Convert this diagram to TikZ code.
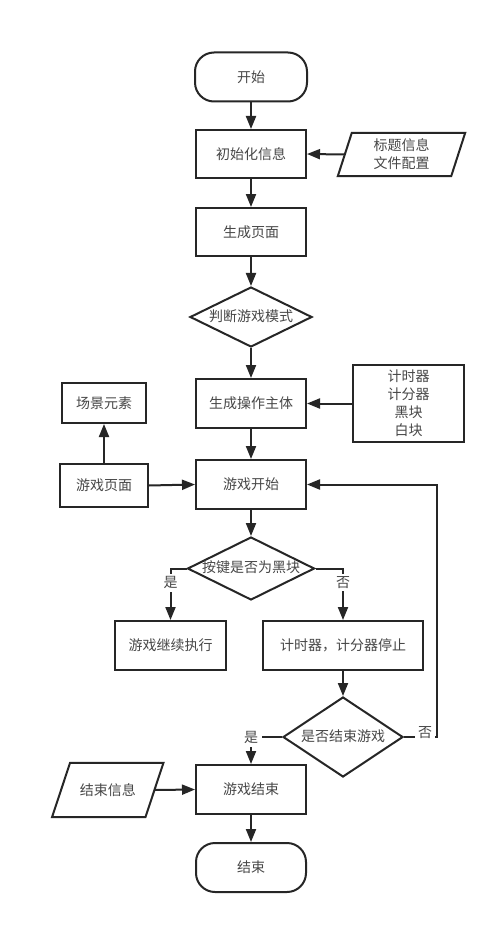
\documentclass[tikz,border=0pt]{standalone}
\usepackage{fontspec}
\newfontfamily\cjk{Noto Sans CJK SC}
\usetikzlibrary{arrows.meta,shapes.geometric}
\begin{document}
\begin{tikzpicture}[x=1pt,y=-1pt,
  every node/.style={font=\cjk\fontsize{14}{18}\selectfont, text=black!72, inner sep=0pt, align=center},
  base/.style={draw=black!85, line width=2pt},
  procbox/.style={base, rectangle, minimum width=110pt, minimum height=48pt},
  termbox/.style={base, rectangle, rounded corners=19pt, minimum width=110pt, minimum height=49pt},
  decbox/.style={base, diamond, text height=10pt, text depth=2pt},
  iobox/.style={rectangle, minimum height=43pt},
  lab/.style={fill=white, inner sep=2.5pt},
  flow/.style={draw=black!85, line width=2pt, -{Triangle[length=13pt,width=10pt]}},
  paraline/.style={draw=black!85, line width=2pt, line join=miter}
]
\useasboundingbox (0,0) rectangle (500,928);
\fill[white] (0,0) rectangle (500,928);

% nodes
\node[termbox, minimum width=112pt] (start) at (251,77) {开始};
\node[procbox] (init) at (251,154) {初始化信息};
\node[iobox, minimum width=113pt] (info) at (401.5,154.5) {标题信息\\文件配置};
\draw[paraline] ([xshift=-7pt]info.south west) -- ([xshift=-7pt]info.south east) -- ([xshift=7pt]info.north east) -- ([xshift=7pt]info.north west) -- cycle;
\node[procbox] (page) at (251,232) {生成页面};
\node[decbox, shape aspect=2, minimum width=122pt, minimum height=60pt] (mode) at (251,317) {判断游戏模式};
\node[procbox, minimum height=49pt] (gen) at (251,403.5) {生成操作主体};
\node[base, rectangle, minimum width=111pt, minimum height=77pt] (comps) at (408.5,403.5) {计时器\\计分器\\黑块\\白块};
\node[base, rectangle, minimum width=84pt, minimum height=40pt] (scene) at (104,403) {场景元素};
\node[base, rectangle, minimum width=88pt, minimum height=43pt] (gpage) at (104,485.5) {游戏页面};
\node[procbox, minimum height=49pt] (gstart) at (251,484.5) {游戏开始};
\node[decbox, shape aspect=2, minimum width=127pt, minimum height=63pt] (key) at (251,568.5) {按键是否为黑块};
\node[procbox, minimum width=111pt, minimum height=49pt] (cont) at (170.5,645.5) {游戏继续执行};
\node[procbox, minimum width=160pt, minimum height=49pt] (stop) at (343,645.5) {计时器，计分器停止};
\node[decbox, shape aspect=1.5, minimum width=120pt, minimum height=80pt] (endq) at (343,737) {是否结束游戏};
\node[procbox, minimum height=49pt] (gend) at (251,789.5) {游戏结束};
\node[iobox, minimum width=93pt, minimum height=54pt] (einfo) at (107.75,790) {结束信息};
\draw[paraline] ([xshift=-9pt]einfo.south west) -- ([xshift=-9pt]einfo.south east) -- ([xshift=9pt]einfo.north east) -- ([xshift=9pt]einfo.north west) -- cycle;
\node[termbox] (fin) at (251,867.5) {结束};

% connectors
\draw[flow] (start) -- (init);
\draw[flow] (info.west) -- (init.east);
\draw[flow] (init) -- (page);
\draw[flow] (page) -- (mode);
\draw[flow] (mode) -- (gen);
\draw[flow] (comps.west) -- (gen.east);
\draw[flow] (gen) -- (gstart);
\draw[flow] (gpage.north) -- (scene.south);
\draw[flow] (gpage.east) -- (gstart.west);
\draw[flow] (gstart) -- (key);
\draw[flow] (key.west) -| node[lab, pos=0.64] {是} (cont.north);
\draw[flow] (key.east) -| node[lab, pos=0.64] {否} (stop.north);
\draw[flow] (stop) -- (endq);
\coordinate (loop) at (437,737);
\draw[flow] (endq.east) -- (loop) |- (gstart.east);
\node[lab, inner sep=3pt] (nolab) at (425,733) {否};
\draw[flow] (endq.west) -| node[lab, pos=0.5, inner sep=4pt] {是} (gend.north);
\draw[flow] (einfo.east) -- (gend.west);
\draw[flow] (gend) -- (fin);
\end{tikzpicture}
\end{document}
